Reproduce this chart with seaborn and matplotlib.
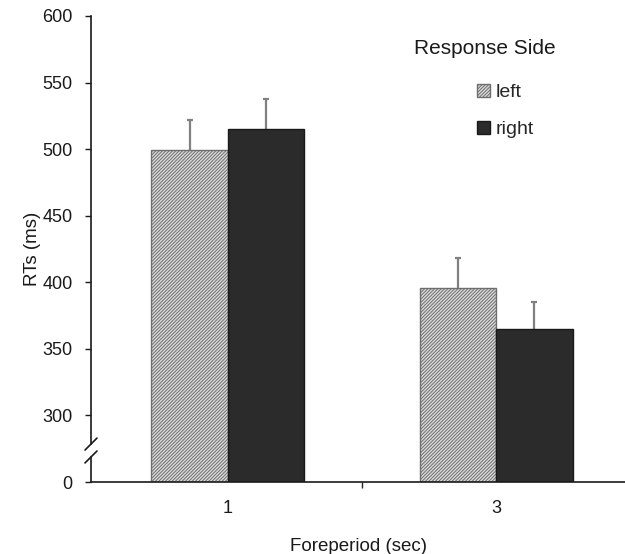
import pandas as pd
import matplotlib
matplotlib.use('Agg')
import matplotlib.pyplot as plt
import seaborn as sns
import numpy as np

foreperiod = ['1', '3']
sides = ['left', 'right']
rt_left = [499, 396]
rt_right = [515, 365]
se_left = [23, 22]
se_right = [23, 20]
ytick_values = [250, 300, 350, 400, 450, 500, 550, 600]
ytick_labels = ['0', '300', '350', '400', '450', '500', '550', '600']
break_low, break_high = 268.8, 278.5

df = pd.DataFrame({
    'Foreperiod': foreperiod * 2,
    'Side': [sides[0]] * 2 + [sides[1]] * 2,
    'RT': rt_left + rt_right,
})

sns.set_style('ticks')
plt.rcParams['font.family'] = ['Liberation Sans', 'DejaVu Sans']
plt.rcParams['hatch.linewidth'] = 0.7

fig = plt.figure(figsize=(6.25, 5.54), dpi=100)
ax = fig.add_axes([91 / 625, 72 / 554, 534 / 625, 466 / 554])

sns.barplot(data=df, x='Foreperiod', y='RT', hue='Side', order=foreperiod,
            hue_order=sides, palette=['#dadada', '#2b2b2b'], width=0.57,
            errorbar=None, ax=ax)
if ax.get_legend() is not None:
    ax.get_legend().remove()

# hatch + errors (upper only)
for cont, hatch, ec, errs in zip(ax.containers, ['//////////', ''],
                                 ['#6e6e6e', '#1a1a1a'], [se_left, se_right]):
    for bar, e in zip(cont, errs):
        bar.set_hatch(hatch)
        bar.set_edgecolor(ec)
        bar.set_linewidth(1)
        x = bar.get_x() + bar.get_width() / 2
        eb = ax.errorbar(x, bar.get_height(), yerr=[[0], [e]], fmt='none',
                         ecolor='#808080', elinewidth=1.6, capsize=2.5,
                         capthick=1.6, zorder=0.5)
        eb[1][0].set_visible(False)

ax.set_ylim(250, 600)
ax.set_xlim(-0.51, 1.48)
ax.set_yticks(ytick_values)
ax.set_yticklabels(ytick_labels)
ax.set_xticks([0, 1])
ax.set_xticklabels(foreperiod)
ax.set_xticks([0.5], minor=True)
ax.tick_params(axis='y', direction='out', length=4.3, width=1, pad=9,
               labelsize=13, colors='#1a1a1a')
ax.tick_params(axis='x', which='major', length=0, pad=13, labelsize=13,
               colors='#1a1a1a')
ax.tick_params(axis='x', which='minor', direction='out', length=4.3, width=1,
               bottom=True)

sns.despine(ax=ax)
for s in ['left', 'bottom']:
    ax.spines[s].set_color('#1a1a1a')
    ax.spines[s].set_linewidth(1.2)
ax.spines['left'].set_bounds(break_high, 600)

# axis break
tr = ax.get_yaxis_transform()
ax.plot([0, 0], [250, break_low], transform=tr, color='#1a1a1a', lw=1.2,
        clip_on=False)
dx = 6 / 534
for yb in [break_low, break_high]:
    ax.plot([-dx, dx], [yb - 4.5, yb + 4.5], transform=tr, color='#1a1a1a',
            lw=1.2, clip_on=False)

ax.set_ylabel('RTs (ms)', fontsize=13.5, labelpad=1, color='#1a1a1a')
ax.set_xlabel('Foreperiod (sec)', fontsize=13.5, labelpad=15, color='#1a1a1a')

handles = [ax.containers[0][0], ax.containers[1][0]]
ax.legend(handles=handles, labels=sides, loc='upper left',
          bbox_to_anchor=(477 / 625, 1 - 84 / 554),
          bbox_transform=fig.transFigure, frameon=False, fontsize=14,
          handlelength=0.67, handleheight=0.67, handletextpad=0.3,
          labelspacing=1.0, borderpad=0, borderaxespad=0)
fig.text(485 / 625, 1 - 48 / 554, 'Response Side', ha='center', va='center',
         fontsize=15, color='#1a1a1a')

fig.savefig('out.png', dpi=100)
